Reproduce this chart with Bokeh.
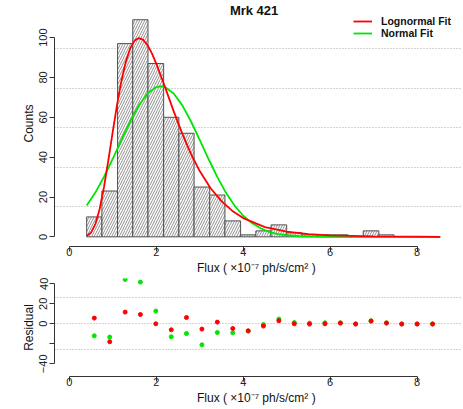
from bokeh.plotting import figure
from bokeh.models import Range1d, FixedTicker, Legend, LegendItem, Label
from bokeh.layouts import column
from bokeh.embed import file_html
from bokeh.resources import INLINE

# ---------------- data ----------------
bin_edges = [0.40, 0.75, 1.11, 1.46, 1.81, 2.17, 2.52, 2.87, 3.23, 3.58, 3.94, 4.29,
             4.64, 5.00, 5.35, 5.70, 6.06, 6.41, 6.76, 7.12, 7.47, 7.82, 8.18, 8.53]
counts = [10, 23, 97, 109, 87, 60, 52, 25, 21, 8, 1, 3, 6, 2, 1, 1, 1, 0, 3, 1, 0, 0, 0]

lognorm_x = [0.40, 0.50, 0.60, 0.70, 0.80, 0.90, 1.00, 1.10, 1.20, 1.30, 1.40, 1.50, 1.60,
             1.70, 1.80, 1.90, 2.00, 2.20, 2.40, 2.60, 2.80, 3.00, 3.25, 3.50, 3.75, 4.00,
             4.50, 5.00, 5.50, 6.00, 7.00, 8.00, 8.53]
lognorm_y = [0.4, 2.1, 6.4, 14.1, 25.2, 38.6, 52.8, 66.5, 78.4, 87.9, 94.6, 98.5, 99.8,
             98.9, 96.2, 92.1, 87.0, 75.3, 63.1, 51.7, 41.5, 33.0, 24.4, 17.9, 13.0, 9.4,
             4.9, 2.6, 1.4, 0.7, 0.2, 0.1, 0.0]

normal_x = [0.40, 0.60, 0.80, 1.00, 1.20, 1.40, 1.60, 1.80, 2.00, 2.10, 2.20, 2.40, 2.60,
            2.80, 3.00, 3.20, 3.40, 3.60, 3.80, 4.00, 4.20, 4.40, 4.60, 4.80, 5.00, 5.30,
            5.60, 6.00, 7.00, 8.53]
normal_y = [15.7, 22.2, 30.2, 39.2, 48.7, 57.9, 66.0, 72.0, 75.2, 75.6, 75.2, 72.0, 66.0,
            57.9, 48.7, 39.2, 30.2, 22.2, 15.7, 10.6, 6.9, 4.3, 2.5, 1.4, 0.8, 0.3,
            0.1, 0.0, 0.0, 0.0]

resid_lognormal = [5.7, -18.0, 11.7, 9.3, 0.0, -6.0, 6.3, -5.3, 1.7, -4.7, -7.0, -2.3,
                   3.0, 0.0, -0.3, 0.0, 0.7, -0.3, 2.7, 0.7, -0.3, -0.3, -0.3]
resid_normal = [-12.0, -13.3, 44.3, 41.7, 12.7, -13.0, -9.7, -21.0, -8.7, -9.0, -7.3, -0.7,
                4.7, 1.3, 0.7, 1.0, 1.0, 0.0, 3.0, 1.0, 0.0, 0.0, 0.0]

x_ticks = [0, 2, 4, 6, 8]
count_ticks = [0, 20, 40, 60, 80, 100]
count_grid = [15.3, 35.0, 54.8, 74.5, 94.5]
resid_ticks = [-40, -20, 0, 20, 40]
resid_grid = [-26, 0, 26]

title_text = "Mrk 421"
xlabel = "Flux ( \u00d710\u207b\u2077  ph/s/cm\u00b2 )"

# ---------------- styling ----------------
FONT = "Liberation Sans"
RED = "#ff0000"
GREEN = "#00e600"
AX = "#333333"
X_RANGE = (-0.34, 9.02)

left_edges = bin_edges[:-1]
right_edges = bin_edges[1:]
mids = [(a + b) / 2 for a, b in zip(left_edges, right_edges)]


def style_axes(p, yticks, ybounds, ylabel, grid_ticks):
    p.outline_line_color = None
    p.background_fill_color = "white"
    p.border_fill_color = "white"
    p.xgrid.visible = False
    p.ygrid.ticker = FixedTicker(ticks=grid_ticks)
    p.ygrid.grid_line_color = "#a8a8a8"
    p.ygrid.grid_line_dash = "1 2"
    p.ygrid.grid_line_width = 1

    xa = p.xaxis[0]
    xa.ticker = FixedTicker(ticks=x_ticks)
    xa.bounds = (0, 8)
    ya = p.yaxis[0]
    ya.ticker = FixedTicker(ticks=yticks)
    ya.bounds = ybounds
    ya.major_label_orientation = "vertical"
    for a in (xa, ya):
        a.axis_line_color = AX
        a.major_tick_line_color = AX
        a.minor_tick_line_color = None
        a.major_tick_out = 5
        a.major_tick_in = 0
        a.major_label_text_font = FONT
        a.major_label_text_font_size = "11px"
        a.major_label_text_color = "#222222"
        a.axis_label_text_font = FONT
        a.axis_label_text_font_size = "12px"
        a.axis_label_text_font_style = "normal"
        a.axis_label_text_color = "#111111"
    xa.axis_label = xlabel
    xa.major_label_standoff = -4
    xa.axis_label_standoff = 2
    ya.axis_label = ylabel
    ya.major_label_standoff = 2
    ya.axis_label_standoff = 1


# ---------------- top: histogram ----------------
p1 = figure(width=463, height=277, title=None,
            x_range=Range1d(*X_RANGE), y_range=Range1d(-4.85, 118.65),
            output_backend="svg", toolbar_location=None,
            min_border_left=54, min_border_right=2, min_border_top=0, min_border_bottom=30)
style_axes(p1, count_ticks, (0, 100), "Counts", count_grid)

p1.quad(left=left_edges, right=right_edges, bottom=0, top=counts,
        fill_color="white", line_color="#505050", line_width=1,
        hatch_pattern="/", hatch_color="#606060", hatch_scale=5, hatch_weight=0.7)

g_line = p1.line(normal_x, normal_y, line_color=GREEN, line_width=1.8)
r_line = p1.line(lognorm_x, lognorm_y, line_color=RED, line_width=1.8)

legend = Legend(items=[LegendItem(label="Lognormal Fit", renderers=[r_line]),
                       LegendItem(label="Normal Fit", renderers=[g_line])],
                location=(299, 207), padding=0, margin=0, spacing=0,
                glyph_width=19, glyph_height=12, label_height=12, label_standoff=9,
                label_text_font=FONT, label_text_font_size="10.5px",
                label_text_font_style="bold", label_text_color="#111111",
                border_line_alpha=0, background_fill_alpha=0)
p1.add_layout(legend)

p1.add_layout(Label(x=4.25, y=113.6, text=title_text, text_align="center",
                    text_baseline="middle", text_font=FONT, text_font_size="13px",
                    text_font_style="bold", text_color="#111111"))

# ---------------- bottom: residuals ----------------
p2 = figure(width=463, height=132, title=None,
            x_range=Range1d(*X_RANGE), y_range=Range1d(-52.7, 45.3),
            output_backend="svg", toolbar_location=None,
            min_border_left=54, min_border_right=2, min_border_top=1, min_border_bottom=33)
style_axes(p2, resid_ticks, (-40, 40), "Residual", resid_grid)
p2.yaxis[0].major_label_overrides = {-20: ""}

p2.scatter(mids, resid_normal, marker="circle", size=4, color=GREEN)
p2.scatter(mids, resid_lognormal, marker="circle", size=4, color=RED)

layout = column(p1, p2, spacing=0)
open("out.html", "w").write(file_html(layout, INLINE))
